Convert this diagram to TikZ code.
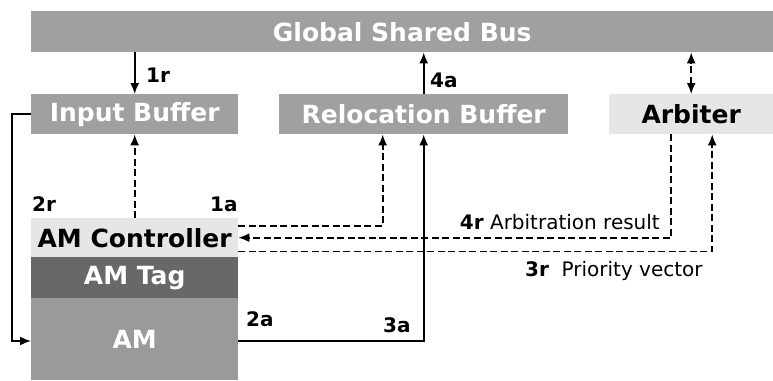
\documentclass[tikz,border=0pt]{standalone}
\usepackage{fontspec}
\setmainfont{DejaVu Sans}
\usepackage{tikz}
\usetikzlibrary{arrows.meta,shapes}
\definecolor{busgray}{HTML}{A0A0A0}
\definecolor{lightgray}{HTML}{E6E6E6}
\definecolor{taggray}{HTML}{686868}
\definecolor{amgray}{HTML}{9A9A9A}
\tikzstyle{block}=[draw=none, inner sep=0pt, anchor=north west, font=\fontsize{25}{28}\selectfont\bfseries]
\tikzstyle{white block}=[block, text=white]
\tikzstyle{black block}=[block, text=black]
\tikzstyle{edge} = [draw, line width=1.7pt, -{Latex[length=11pt,width=9pt]}]
\tikzstyle{dashed edge} = [draw, line width=1.7pt, dash pattern=on 7pt off 3.5pt, -{Latex[length=11pt,width=9pt]}]
\tikzstyle{note} = [draw=none, inner sep=0pt, anchor=base west, font=\fontsize{20}{22}\selectfont]

\begin{document}
\begin{tikzpicture}[x=1pt, y=-1pt]
		\useasboundingbox (0,0) rectangle (773,380);
		% First we draw the blocks
		\node[white block, fill=busgray, minimum width=742pt, minimum height=41pt] (bus) at (31,11) {Global Shared Bus};
		\node[white block, fill=busgray, minimum width=207pt, minimum height=40pt] (ib) at (31,94) {Input Buffer};
		\node[white block, fill=busgray, minimum width=289pt, minimum height=40pt] (rb) at (279,94) {Relocation Buffer};
		\node[black block, fill=lightgray, minimum width=164pt, minimum height=40pt] (arb) at (609,94) {Arbiter};
		\node[black block, fill=lightgray, minimum width=207pt, minimum height=39pt] (ctrl) at (31,218) {AM Controller};
		\node[white block, fill=taggray, minimum width=207pt, minimum height=41pt] (tag) at (31,257) {AM Tag};
		\node[white block, fill=amgray, minimum width=207pt, minimum height=82pt] (am) at (31,298) {AM};
		
		% Connect blocks with arrows
		\path[edge] (ib.north |- bus.south) -- (ib.north);
		\path[edge] (rb.north) -- (rb.north |- bus.south);
		\path[dashed edge, {Latex[length=11pt,width=9pt]}-{Latex[length=11pt,width=9pt]}] (arb.north) -- (arb.north |- bus.south);
		\path[dashed edge] (ctrl.north) -- (ctrl.north |- ib.south);
		\path[dashed edge] ([yshift=-8pt]ctrl.north east) -| ([xshift=-41pt]rb.south);
		\path[edge] (am.east |- 0,341) -| (rb.south);
		\path[dashed edge] ([xshift=-20pt]arb.south) |- (ctrl.east);
		\path[dashed edge] ([yshift=6pt]ctrl.south east) -| ([xshift=21pt]arb.south);
		\path[edge] (ib.west) -- ++(-19pt,0) |- (am.west |- 0,341);
		
		% Step labels
		\foreach \pos/\name in {
			{(146,82)/1r}, {(430,87)/4a}, {(32,211)/2r},
			{(210,211)/1a}, {(246,326)/2a}, {(383,332)/3a}}
		\node[note, font=\fontsize{20}{22}\selectfont\bfseries] at \pos {\name};
		\node[note, anchor=base east] (res) at (660,229) {\textbf{4r} Arbitration result};
		\node[note] (prio) at (525,276) {\textbf{3r}\ \ Priority vector};
\end{tikzpicture}
\end{document}
